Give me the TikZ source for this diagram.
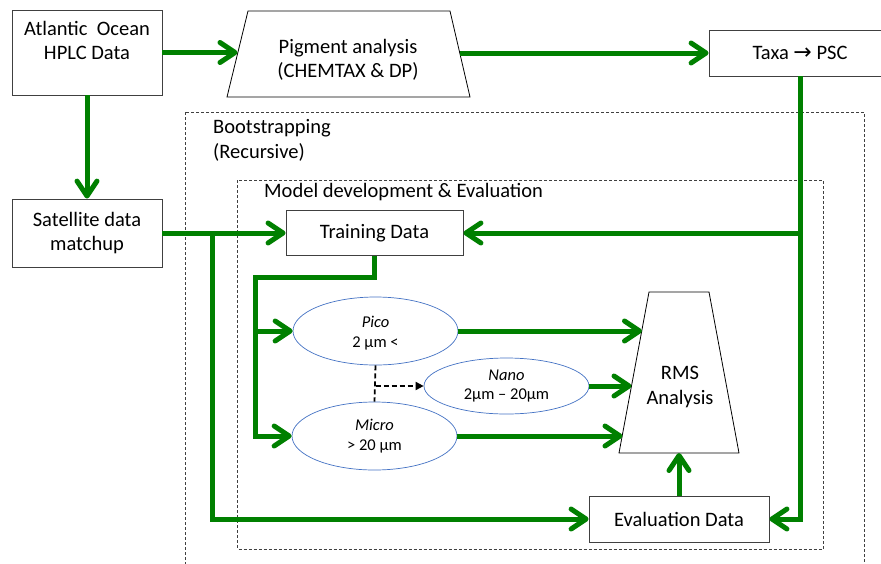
\documentclass[tikz,border=0pt]{standalone}
\usepackage{fontspec}
\setmainfont{Carlito}
\newfontfamily\dejavu{DejaVu Sans}
\usetikzlibrary{arrows.meta,shapes.geometric}
\definecolor{grn}{RGB}{0,128,0}
\definecolor{ellblue}{RGB}{68,114,196}
\begin{document}
\begin{tikzpicture}[x=1pt,y=-1pt,
  bigfont/.style={font=\fontsize{20.5}{24.5}\selectfont},
  box/.style={draw=black!75, line width=0.8pt, fill=white, align=center, inner sep=0pt, bigfont},
  shapeline/.style={draw=black, line width=0.8pt, fill=white},
  txt/.style={align=center, inner sep=0pt, bigfont},
  flow/.style={draw=grn, line width=5pt, -{Straight Barb[length=15pt,width=20pt,line cap=round,line join=round]}},
  ell/.style={ellipse, draw=ellblue, line width=0.7pt, fill=white, inner sep=0pt, align=center, font=\fontsize{16.5}{19.5}\selectfont},
  frame/.style={dash pattern=on 3pt off 2pt, draw=black!75, line width=0.8pt},
  blkdash/.style={draw=black, line width=1.8pt, dash pattern=on 5pt off 3pt},
  lbl/.style={anchor=base west, inner sep=0pt, bigfont}]
\clip (0,0) rectangle (881,563);
\fill[white] (0,0) rectangle (881,563);

% frames
\draw[frame] (185.5,112) rectangle (864,580);
\draw[frame] (237.5,180) rectangle (823,549);
\node[lbl] (boot) at (213,133.5) {Bootstrapping};
\node[lbl] (rec) at (213,158) {(Recursive)};
\node[lbl] (model) at (264,197) {Model development \& Evaluation};

% boxes
\node[box, minimum width=150, minimum height=85] (atl) at (87,52.5) {Atlantic\ \ Ocean\\HPLC Data\\\mbox{}};
\node[box, minimum width=150, minimum height=68] (sat) at (87,233) {Satellite data\\matchup};
\node[box, minimum width=182, minimum height=46] (taxa) at (800,53) {Taxa {\dejavu\fontsize{22}{24}\selectfont →} PSC};
\node[box, minimum width=177, minimum height=45] (train) at (374.5,233) {Training Data};
\node[box, minimum width=180, minimum height=46] (eval) at (679,519) {Evaluation Data};

% trapezoids
\draw[shapeline] (248,11) -- (450,11) -- (470,97) -- (227,97) -- cycle;
\node[txt] (pig) at (348,60) {Pigment analysis\\(CHEMTAX \& DP)};
\coordinate (pigL) at (237.5,52.5);
\coordinate (pigR) at (460,53);
\draw[shapeline] (649,292) -- (709,292) -- (739,453) -- (619,453) -- cycle;
\node[txt] (rms) at (680,387) {RMS\\Analysis};
\coordinate (rmsA) at (642,331);
\coordinate (rmsB) at (631.5,386);
\coordinate (rmsC) at (622.5,436);
\coordinate (rmsBot) at (679,453);

% ellipses
\node[ell, minimum width=165, minimum height=68] (pico) at (375.5,331) {\rule{0pt}{16pt}\textit{Pico}\\2 µm <};
\node[ell, minimum width=165, minimum height=56] (nano) at (506.5,386) {\textit{Nano}\\2µm – 20µm};
\node[ell, minimum width=165, minimum height=68] (micro) at (374.5,436) {\textit{Micro}\\> 20 µm};

% green connectors
\draw[flow] (atl.east) -- (pigL);
\draw[flow] (pigR) -- (taxa.west);
\draw[flow] (atl.south) -- (sat.north);
\draw[flow] (taxa.south) -- (taxa.south |- eval.east) -- (eval.east);
\draw[flow] (taxa.south |- train.east) -- (train.east);
\draw[flow] (sat.east) -- (train.west);
\coordinate (splitA) at (212,233);
\draw[flow] (splitA) -- (splitA |- eval.west) -- (eval.west);
\coordinate (hcorner) at (255,277);
\draw[flow] (train.south) |- (hcorner) -- (hcorner |- micro.west) -- (micro.west);
\draw[flow] (hcorner |- pico.west) -- (pico.west);
\draw[flow] (pico.east) -- (rmsA);
\draw[flow] (nano.east) -- (rmsB);
\draw[flow] (micro.east) -- (rmsC);
\draw[flow] (eval.north) -- (rmsBot);

% dashed black connectors
\draw[blkdash] (pico.south) -- (micro.north);
\draw[blkdash, -{Triangle[length=8pt,width=8pt]}] (pico.south |- nano.west) -- (nano.west);
\end{tikzpicture}
\end{document}
